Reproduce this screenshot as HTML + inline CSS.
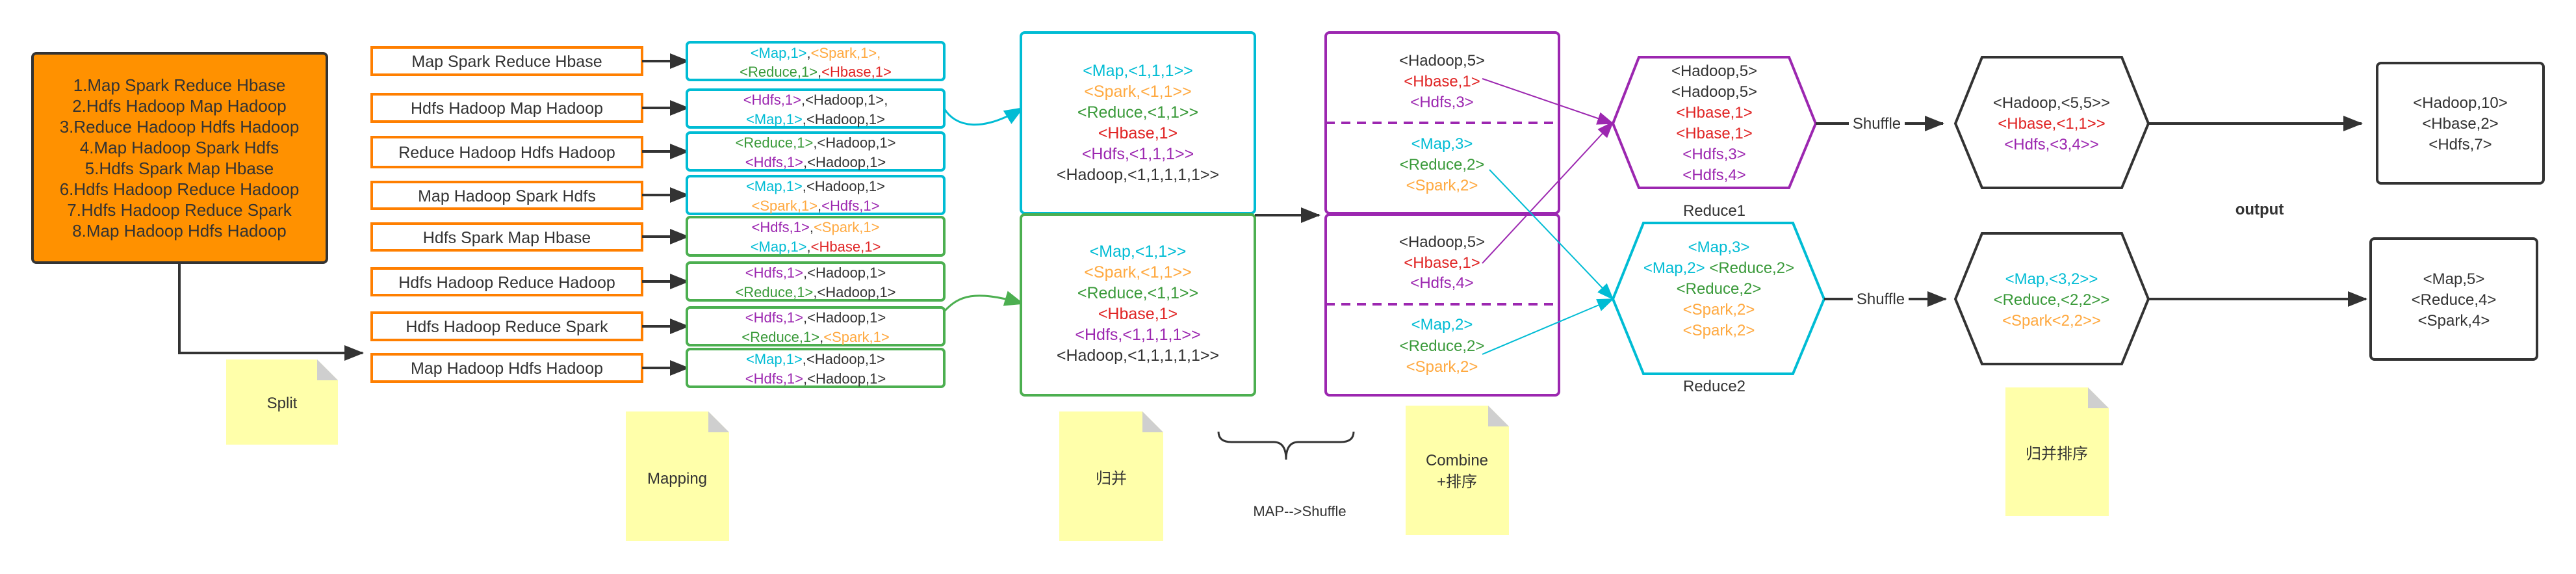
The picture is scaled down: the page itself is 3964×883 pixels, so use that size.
<!DOCTYPE html>
<html><head><meta charset="utf-8"><style>
html,body{margin:0;padding:0;background:#fff;}
svg{display:block;}
text{font-family:"Liberation Sans","Noto Sans CJK SC",sans-serif;}
</style></head><body>
<svg width="3964" height="883" viewBox="0 0 3964 883" xmlns="http://www.w3.org/2000/svg">
<defs>
<marker id="ak" markerUnits="userSpaceOnUse" markerWidth="30" markerHeight="24" refX="28" refY="12" orient="auto"><path d="M0,0 L30,12 L0,24 Z" fill="#333"/></marker>
<marker id="ac" markerUnits="userSpaceOnUse" markerWidth="30" markerHeight="24" refX="28" refY="12" orient="auto"><path d="M0,0 L30,12 L0,24 Z" fill="#00bcd4"/></marker>
<marker id="ag" markerUnits="userSpaceOnUse" markerWidth="30" markerHeight="24" refX="28" refY="12" orient="auto"><path d="M0,0 L30,12 L0,24 Z" fill="#4caf50"/></marker>
<marker id="ap" markerUnits="userSpaceOnUse" markerWidth="26" markerHeight="20" refX="24" refY="10" orient="auto"><path d="M0,0 L26,10 L0,20 Z" fill="#9c27b0"/></marker>
<marker id="ac2" markerUnits="userSpaceOnUse" markerWidth="26" markerHeight="20" refX="24" refY="10" orient="auto"><path d="M0,0 L26,10 L0,20 Z" fill="#00bcd4"/></marker>
</defs>

<!-- input box -->
<rect x="50" y="82" width="453" height="322" rx="6" fill="#ff9100" stroke="#333" stroke-width="4"/>
<g font-size="26" fill="#333" text-anchor="middle">
<text x="276" y="140">1.Map Spark Reduce Hbase</text>
<text x="276" y="172">2.Hdfs Hadoop Map Hadoop</text>
<text x="276" y="204">3.Reduce Hadoop Hdfs Hadoop</text>
<text x="276" y="236">4.Map Hadoop Spark Hdfs</text>
<text x="276" y="268">5.Hdfs Spark Map Hbase</text>
<text x="276" y="300">6.Hdfs Hadoop Reduce Hadoop</text>
<text x="276" y="332">7.Hdfs Hadoop Reduce Spark</text>
<text x="276" y="364">8.Map Hadoop Hdfs Hadoop</text>
</g>
<path d="M276,404 L276,543 L558,543" fill="none" stroke="#333" stroke-width="4" marker-end="url(#ak)"/>

<!-- notes -->
<g>
<path d="M348,553 L488,553 L520,585 L520,684 L348,684 Z" fill="#ffffaa"/><path d="M488,553 L520,585 L488,585 Z" fill="#cfcfcf"/>
<path d="M963,633 L1090,633 L1122,665 L1122,832 L963,832 Z" fill="#ffffaa"/><path d="M1090,633 L1122,665 L1090,665 Z" fill="#cfcfcf"/>
<path d="M1630,633 L1758,633 L1790,665 L1790,832 L1630,832 Z" fill="#ffffaa"/><path d="M1758,633 L1790,665 L1758,665 Z" fill="#cfcfcf"/>
<path d="M2163,624 L2290,624 L2322,656 L2322,823 L2163,823 Z" fill="#ffffaa"/><path d="M2290,624 L2322,656 L2290,656 Z" fill="#cfcfcf"/>
<path d="M3086,596 L3213,596 L3245,628 L3245,794 L3086,794 Z" fill="#ffffaa"/><path d="M3213,596 L3245,628 L3213,628 Z" fill="#cfcfcf"/>
</g>
<g font-size="24" fill="#333" text-anchor="middle">
<text x="434" y="628">Split</text>
<text x="1042" y="744">Mapping</text>
<text x="1710" y="744">归并</text>
<text x="2242" y="716">Combine</text>
<text x="2242" y="749">+排序</text>
<text x="3165" y="706">归并排序</text>
<text x="2000" y="794" font-size="22">MAP--&gt;Shuffle</text>
<text x="3477" y="330" font-weight="bold" font-size="24">output</text>
</g>

<!-- split boxes -->
<g fill="#fff" stroke="#ff7f00" stroke-width="4">
<rect x="572" y="73" width="416" height="42"/>
<rect x="572" y="145" width="416" height="42"/>
<rect x="572" y="211" width="416" height="46"/>
<rect x="572" y="280" width="416" height="41"/>
<rect x="572" y="344" width="416" height="41"/>
<rect x="572" y="413" width="416" height="41"/>
<rect x="572" y="481" width="416" height="42"/>
<rect x="572" y="545" width="416" height="42"/>
</g>
<g font-size="25" fill="#333" text-anchor="middle">
<text x="780" y="103">Map Spark Reduce Hbase</text>
<text x="780" y="175">Hdfs Hadoop Map Hadoop</text>
<text x="780" y="243">Reduce Hadoop Hdfs Hadoop</text>
<text x="780" y="310">Map Hadoop Spark Hdfs</text>
<text x="780" y="374">Hdfs Spark Map Hbase</text>
<text x="780" y="443">Hdfs Hadoop Reduce Hadoop</text>
<text x="780" y="511">Hdfs Hadoop Reduce Spark</text>
<text x="780" y="575">Map Hadoop Hdfs Hadoop</text>
</g>
<g stroke="#333" stroke-width="4" marker-end="url(#ak)">
<line x1="988" y1="94" x2="1059" y2="94"/>
<line x1="988" y1="166" x2="1059" y2="166"/>
<line x1="988" y1="233" x2="1059" y2="233"/>
<line x1="988" y1="300" x2="1059" y2="300"/>
<line x1="988" y1="364" x2="1059" y2="364"/>
<line x1="988" y1="433" x2="1059" y2="433"/>
<line x1="988" y1="502" x2="1059" y2="502"/>
<line x1="988" y1="566" x2="1059" y2="566"/>
</g>

<!-- mapping boxes -->
<g fill="#fff" stroke-width="4">
<rect x="1057" y="65" width="396" height="58" rx="5" stroke="#00bcd4"/>
<rect x="1057" y="138" width="396" height="58" rx="5" stroke="#00bcd4"/>
<rect x="1057" y="204" width="396" height="58" rx="5" stroke="#00bcd4"/>
<rect x="1057" y="271" width="396" height="58" rx="5" stroke="#00bcd4"/>
<rect x="1057" y="334" width="396" height="59" rx="5" stroke="#4caf50"/>
<rect x="1057" y="404" width="396" height="58" rx="5" stroke="#4caf50"/>
<rect x="1057" y="473" width="396" height="58" rx="5" stroke="#4caf50"/>
<rect x="1057" y="537" width="396" height="58" rx="5" stroke="#4caf50"/>
</g>
<g font-size="22" text-anchor="middle" fill="#333">
<text x="1255" y="89"><tspan fill="#00bcd4">&lt;Map,1&gt;</tspan>,<tspan fill="#ffa940">&lt;Spark,1&gt;,</tspan></text>
<text x="1255" y="118"><tspan fill="#3a9a3a">&lt;Reduce,1&gt;</tspan>,<tspan fill="#e02424">&lt;Hbase,1&gt;</tspan></text>
<text x="1255" y="161"><tspan fill="#9c27b0">&lt;Hdfs,1&gt;</tspan>,&lt;Hadoop,1&gt;,</text>
<text x="1255" y="191"><tspan fill="#00bcd4">&lt;Map,1&gt;</tspan>,&lt;Hadoop,1&gt;</text>
<text x="1255" y="227"><tspan fill="#3a9a3a">&lt;Reduce,1&gt;</tspan>,&lt;Hadoop,1&gt;</text>
<text x="1255" y="257"><tspan fill="#9c27b0">&lt;Hdfs,1&gt;</tspan>,&lt;Hadoop,1&gt;</text>
<text x="1255" y="294"><tspan fill="#00bcd4">&lt;Map,1&gt;</tspan>,&lt;Hadoop,1&gt;</text>
<text x="1255" y="324"><tspan fill="#ffa940">&lt;Spark,1&gt;</tspan>,<tspan fill="#9c27b0">&lt;Hdfs,1&gt;</tspan></text>
<text x="1255" y="357"><tspan fill="#9c27b0">&lt;Hdfs,1&gt;</tspan>,<tspan fill="#ffa940">&lt;Spark,1&gt;</tspan></text>
<text x="1255" y="387"><tspan fill="#00bcd4">&lt;Map,1&gt;</tspan>,<tspan fill="#e02424">&lt;Hbase,1&gt;</tspan></text>
<text x="1255" y="427"><tspan fill="#9c27b0">&lt;Hdfs,1&gt;</tspan>,&lt;Hadoop,1&gt;</text>
<text x="1255" y="457"><tspan fill="#3a9a3a">&lt;Reduce,1&gt;</tspan>,&lt;Hadoop,1&gt;</text>
<text x="1255" y="496"><tspan fill="#9c27b0">&lt;Hdfs,1&gt;</tspan>,&lt;Hadoop,1&gt;</text>
<text x="1255" y="526"><tspan fill="#3a9a3a">&lt;Reduce,1&gt;</tspan>,<tspan fill="#ffa940">&lt;Spark,1&gt;</tspan></text>
<text x="1255" y="560"><tspan fill="#00bcd4">&lt;Map,1&gt;</tspan>,&lt;Hadoop,1&gt;</text>
<text x="1255" y="590"><tspan fill="#9c27b0">&lt;Hdfs,1&gt;</tspan>,&lt;Hadoop,1&gt;</text>
</g>

<!-- curves to merge -->
<path d="M1453,167 C1470,195 1510,205 1574,166" fill="none" stroke="#00bcd4" stroke-width="3" marker-end="url(#ac)"/>
<path d="M1453,479 C1475,455 1500,445 1574,467" fill="none" stroke="#4caf50" stroke-width="3" marker-end="url(#ag)"/>

<!-- merge boxes -->
<rect x="1571" y="50" width="360" height="278" rx="6" fill="#fff" stroke="#00bcd4" stroke-width="4"/>
<rect x="1571" y="330" width="360" height="278" rx="6" fill="#fff" stroke="#4caf50" stroke-width="4"/>
<g font-size="25" text-anchor="middle">
<text x="1751" y="117" fill="#00bcd4">&lt;Map,&lt;1,1,1&gt;&gt;</text>
<text x="1751" y="149" fill="#ffa940">&lt;Spark,&lt;1,1&gt;&gt;</text>
<text x="1751" y="181" fill="#3a9a3a">&lt;Reduce,&lt;1,1&gt;&gt;</text>
<text x="1751" y="213" fill="#e02424">&lt;Hbase,1&gt;</text>
<text x="1751" y="245" fill="#9c27b0">&lt;Hdfs,&lt;1,1,1&gt;&gt;</text>
<text x="1751" y="277" fill="#333">&lt;Hadoop,&lt;1,1,1,1,1&gt;&gt;</text>
<text x="1751" y="395" fill="#00bcd4">&lt;Map,&lt;1,1&gt;&gt;</text>
<text x="1751" y="427" fill="#ffa940">&lt;Spark,&lt;1,1&gt;&gt;</text>
<text x="1751" y="459" fill="#3a9a3a">&lt;Reduce,&lt;1,1&gt;&gt;</text>
<text x="1751" y="491" fill="#e02424">&lt;Hbase,1&gt;</text>
<text x="1751" y="523" fill="#9c27b0">&lt;Hdfs,&lt;1,1,1,1&gt;&gt;</text>
<text x="1751" y="555" fill="#333">&lt;Hadoop,&lt;1,1,1,1,1&gt;&gt;</text>
</g>
<line x1="1931" y1="331" x2="2030" y2="331" stroke="#333" stroke-width="4" marker-end="url(#ak)"/>
<path d="M1875,664 Q1875,680 1895,680 L1960,680 Q1979,680 1979,707 M1979,707 Q1979,680 1998,680 L2063,680 Q2083,680 2083,664" fill="none" stroke="#333" stroke-width="3"/>

<!-- combine boxes -->
<rect x="2040" y="50" width="359" height="278" rx="6" fill="#fff" stroke="#9c27b0" stroke-width="4"/>
<rect x="2040" y="330" width="359" height="278" rx="6" fill="#fff" stroke="#9c27b0" stroke-width="4"/>
<line x1="2040" y1="189" x2="2399" y2="189" stroke="#9c27b0" stroke-width="4" stroke-dasharray="14,10"/>
<line x1="2040" y1="468" x2="2399" y2="468" stroke="#9c27b0" stroke-width="4" stroke-dasharray="14,10"/>
<g font-size="24" text-anchor="middle">
<text x="2219" y="101" fill="#333">&lt;Hadoop,5&gt;</text>
<text x="2219" y="133" fill="#e02424">&lt;Hbase,1&gt;</text>
<text x="2219" y="165" fill="#9c27b0">&lt;Hdfs,3&gt;</text>
<text x="2219" y="229" fill="#00bcd4">&lt;Map,3&gt;</text>
<text x="2219" y="261" fill="#3a9a3a">&lt;Reduce,2&gt;</text>
<text x="2219" y="293" fill="#ffa940">&lt;Spark,2&gt;</text>
<text x="2219" y="380" fill="#333">&lt;Hadoop,5&gt;</text>
<text x="2219" y="412" fill="#e02424">&lt;Hbase,1&gt;</text>
<text x="2219" y="443" fill="#9c27b0">&lt;Hdfs,4&gt;</text>
<text x="2219" y="507" fill="#00bcd4">&lt;Map,2&gt;</text>
<text x="2219" y="540" fill="#3a9a3a">&lt;Reduce,2&gt;</text>
<text x="2219" y="572" fill="#ffa940">&lt;Spark,2&gt;</text>
</g>

<!-- reduce hexagons -->
<polygon points="2522,88 2753,88 2794,190 2753,289 2522,289 2482,190" fill="#fff" stroke="#9c27b0" stroke-width="4"/>
<polygon points="2529,343 2759,343 2807,460 2759,575 2529,575 2482,460" fill="#fff" stroke="#00bcd4" stroke-width="4"/>
<g font-size="24" text-anchor="middle">
<text x="2638" y="117" fill="#333">&lt;Hadoop,5&gt;</text>
<text x="2638" y="149" fill="#333">&lt;Hadoop,5&gt;</text>
<text x="2638" y="181" fill="#e02424">&lt;Hbase,1&gt;</text>
<text x="2638" y="213" fill="#e02424">&lt;Hbase,1&gt;</text>
<text x="2638" y="245" fill="#9c27b0">&lt;Hdfs,3&gt;</text>
<text x="2638" y="277" fill="#9c27b0">&lt;Hdfs,4&gt;</text>
<text x="2645" y="388" fill="#00bcd4">&lt;Map,3&gt;</text>
<text x="2645" y="420"><tspan fill="#00bcd4">&lt;Map,2&gt;</tspan> <tspan fill="#3a9a3a">&lt;Reduce,2&gt;</tspan></text>
<text x="2645" y="452" fill="#3a9a3a">&lt;Reduce,2&gt;</text>
<text x="2645" y="484" fill="#ffa940">&lt;Spark,2&gt;</text>
<text x="2645" y="516" fill="#ffa940">&lt;Spark,2&gt;</text>
<text x="2638" y="332" fill="#333">Reduce1</text>
<text x="2638" y="602" fill="#333">Reduce2</text>
</g>
<!-- cross arrows -->
<line x1="2281" y1="121" x2="2482" y2="190" stroke="#9c27b0" stroke-width="2" marker-end="url(#ap)"/>
<line x1="2281" y1="405" x2="2482" y2="188" stroke="#9c27b0" stroke-width="2" marker-end="url(#ap)"/>
<line x1="2292" y1="261" x2="2482" y2="460" stroke="#00bcd4" stroke-width="2" marker-end="url(#ac2)"/>
<line x1="2281" y1="545" x2="2482" y2="460" stroke="#00bcd4" stroke-width="2" marker-end="url(#ac2)"/>

<!-- shuffle -->
<line x1="2794" y1="190" x2="2845" y2="190" stroke="#333" stroke-width="4"/>
<line x1="2931" y1="190" x2="2990" y2="190" stroke="#333" stroke-width="4" marker-end="url(#ak)"/>
<line x1="2807" y1="460" x2="2851" y2="460" stroke="#333" stroke-width="4"/>
<line x1="2937" y1="460" x2="2994" y2="460" stroke="#333" stroke-width="4" marker-end="url(#ak)"/>
<g font-size="24" fill="#333" text-anchor="middle">
<text x="2888" y="198">Shuffle</text>
<text x="2894" y="468">Shuffle</text>
</g>

<!-- final hexagons -->
<polygon points="3050,88 3265,88 3306,190 3265,289 3050,289 3009,190" fill="#fff" stroke="#333" stroke-width="4"/>
<polygon points="3050,359 3265,359 3306,460 3265,560 3050,560 3009,460" fill="#fff" stroke="#333" stroke-width="4"/>
<g font-size="24" text-anchor="middle">
<text x="3157" y="166" fill="#333">&lt;Hadoop,&lt;5,5&gt;&gt;</text>
<text x="3157" y="198" fill="#e02424">&lt;Hbase,&lt;1,1&gt;&gt;</text>
<text x="3157" y="230" fill="#9c27b0">&lt;Hdfs,&lt;3,4&gt;&gt;</text>
<text x="3157" y="437" fill="#00bcd4">&lt;Map,&lt;3,2&gt;&gt;</text>
<text x="3157" y="469" fill="#3a9a3a">&lt;Reduce,&lt;2,2&gt;&gt;</text>
<text x="3157" y="501" fill="#ffa940">&lt;Spark&lt;2,2&gt;&gt;</text>
</g>
<line x1="3306" y1="190" x2="3634" y2="190" stroke="#333" stroke-width="4" marker-end="url(#ak)"/>
<line x1="3306" y1="460" x2="3641" y2="460" stroke="#333" stroke-width="4" marker-end="url(#ak)"/>

<!-- outputs -->
<rect x="3658" y="97" width="256" height="185" rx="6" fill="#fff" stroke="#333" stroke-width="4"/>
<rect x="3648" y="367" width="256" height="186" rx="6" fill="#fff" stroke="#333" stroke-width="4"/>
<g font-size="24" fill="#333" text-anchor="middle">
<text x="3786" y="166">&lt;Hadoop,10&gt;</text>
<text x="3786" y="198">&lt;Hbase,2&gt;</text>
<text x="3786" y="230">&lt;Hdfs,7&gt;</text>
<text x="3776" y="437">&lt;Map,5&gt;</text>
<text x="3776" y="469">&lt;Reduce,4&gt;</text>
<text x="3776" y="501">&lt;Spark,4&gt;</text>
</g>
</svg>
</body></html>
